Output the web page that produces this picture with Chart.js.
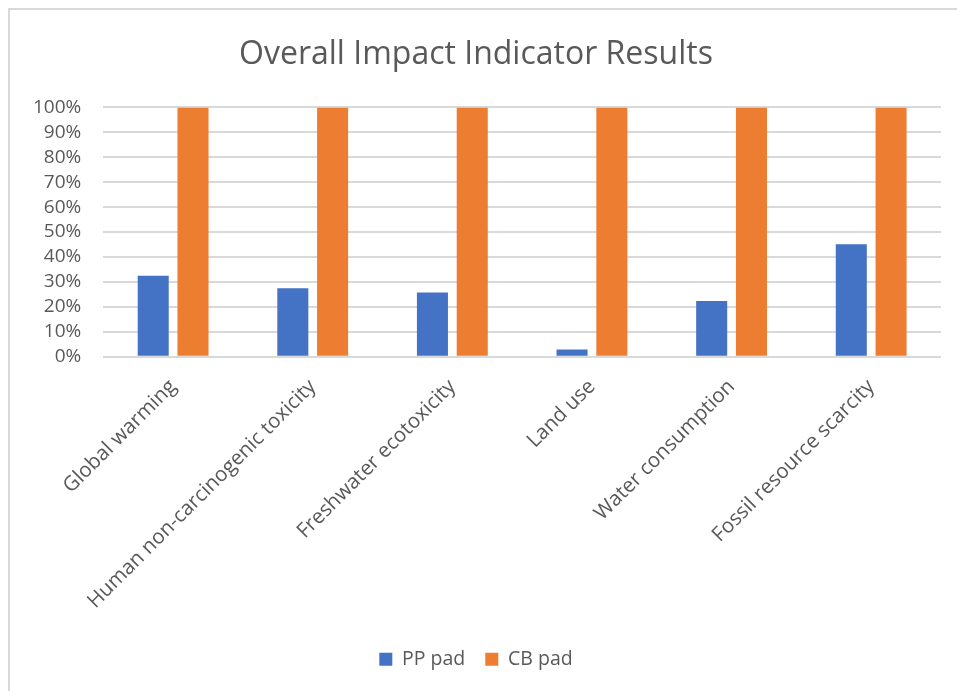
<!DOCTYPE html>
<html>
<head>
<meta charset="utf-8">
<script src="https://cdn.jsdelivr.net/npm/chart.js@4"></script>
<style>
  html, body { margin: 0; padding: 0; background: #fff; overflow: hidden; }
  #frame { position: absolute; left: 8px; top: 8px; width: 980px; height: 720px; border: 2px solid #d9d9d9; }
  #wrap { position: absolute; left: 0; top: 0; width: 957px; height: 691px; }
</style>
</head>
<body>
<div id="frame"></div>
<div id="wrap"><canvas id="impactChart"></canvas></div>
<script>
// categories and values
var categories = ['Global warming', 'Human non-carcinogenic toxicity', 'Freshwater ecotoxicity',
                  'Land use', 'Water consumption', 'Fossil resource scarcity'];
var ppPad = [32.5, 27.4, 25.7, 2.9, 22.3, 45.1];
var cbPad = [100, 100, 100, 100, 100, 100];
var yTicks = [0, 10, 20, 30, 40, 50, 60, 70, 80, 90, 100];

var textColor = '#595959';
var fontFamily = '"Open Sans", "Noto Sans", sans-serif';

var ctx = document.getElementById('impactChart').getContext('2d');
window.impactChart = new Chart(ctx, {
    type: 'bar',
    data: {
        labels: categories,
        datasets: [
            {
                label: 'PP pad',
                data: ppPad,
                backgroundColor: '#4472c4',
                categoryPercentage: 0.57,
                barPercentage: 0.78
            },
            {
                label: 'CB pad',
                data: cbPad,
                backgroundColor: '#ed7d31',
                categoryPercentage: 0.57,
                barPercentage: 0.78
            }
        ]
    },
    options: {
        responsive: true,
        maintainAspectRatio: false,
        animation: false,
        layout: {
            padding: { left: 11, right: 16, top: 36, bottom: 12 }
        },
        plugins: {
            title: {
                display: true,
                text: 'Overall Impact Indicator Results',
                color: textColor,
                font: { family: fontFamily, size: 32, weight: 'normal' },
                padding: { top: 0, bottom: 33 }
            },
            legend: {
                position: 'bottom',
                labels: {
                    color: textColor,
                    font: { family: fontFamily, size: 19.5 },
                    boxWidth: 13,
                    boxHeight: 13,
                    padding: 20
                }
            },
            tooltip: { enabled: false }
        },
        scales: {
            x: {
                grid: { display: false },
                border: { display: false },
                // extra room under the rotated labels, before the legend
                afterFit: function(scale) { scale.height += 6; },
                ticks: {
                    color: textColor,
                    font: { family: fontFamily, size: 20.5 },
                    minRotation: 45,
                    maxRotation: 45,
                    autoSkip: false,
                    padding: 10
                }
            },
            y: {
                min: 0,
                max: 100,
                afterBuildTicks: function(axis) {
                    axis.ticks = yTicks.map(function(v) { return { value: v }; });
                },
                grid: { color: '#d9d9d9', lineWidth: 2, drawTicks: false },
                border: { display: false },
                ticks: {
                    color: textColor,
                    font: { family: fontFamily, size: 19 },
                    padding: 22,
                    autoSkip: false,
                    callback: function(v) { return v + '%'; }
                }
            }
        }
    }
});
</script>
</body>
</html>
